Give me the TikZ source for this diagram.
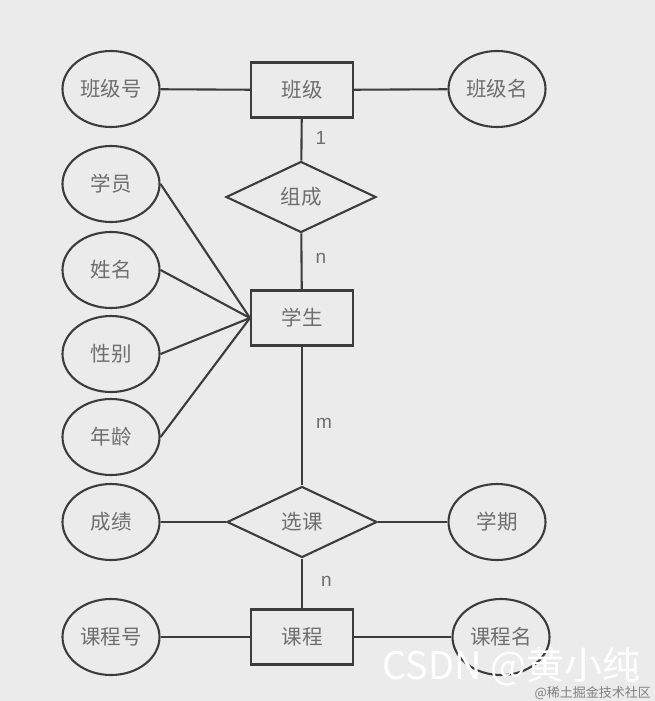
\documentclass[tikz,border=0pt]{standalone}
\usepackage{fontspec}
\setmainfont{Liberation Sans}
\newfontfamily\cjk{Noto Sans CJK SC}
\usetikzlibrary{shapes.geometric}
\definecolor{bgc}{HTML}{EBEBEB}
\definecolor{linec}{HTML}{3C3C3C}
\definecolor{txtc}{HTML}{6E6E6E}
\tikzset{
  x=1pt, y=-1pt,
  every node/.style={font=\cjk\fontsize{20.5}{22}\selectfont, text=txtc},
  attr/.style={ellipse, draw=linec, line width=2.1pt, minimum width=97pt, minimum height=76pt, inner sep=0pt},
  ent/.style={rectangle, draw=linec, line width=2.1pt, minimum width=102pt, minimum height=55pt, inner sep=0pt},
  rel/.style={diamond, draw=linec, line width=2.1pt, minimum width=150pt, minimum height=71pt, inner sep=0pt, aspect=2.1},
  conn/.style={draw=linec, line width=2.1pt},
  card/.style={font=\fontsize{19}{21}\selectfont, text=txtc, inner sep=0pt, anchor=west}
}
\begin{document}
\begin{tikzpicture}
\fill[bgc] (0,0) rectangle (655,701);
\useasboundingbox (0,0) rectangle (655,701);
% entities
\node[ent] (bj) at (302,90) {班级};
\node[ent] (xs) at (302,318) {学生};
\node[ent] (kc) at (302,637) {课程};
% relationships
\node[rel] (zc) at (301,197) {组成};
\node[rel] (xk) at (302,522) {选课};
% attributes
\node[attr] (bjh) at (111,89) {班级号};
\node[attr] (bjm) at (497,89) {班级名};
\node[attr] (xy) at (111,184) {学员};
\node[attr] (xm) at (111,270) {姓名};
\node[attr] (xb) at (111,354) {性别};
\node[attr] (nl) at (111,437) {年龄};
\node[attr] (cj) at (111,522) {成绩};
\node[attr] (xq) at (497,522) {学期};
\node[attr] (kch) at (111,637) {课程号};
\node[attr] (kcm) at (501,637) {课程名};
% connectors
\draw[conn] (bjh) -- (bj);
\draw[conn] (bj) -- (bjm);
\draw[conn] (bj) -- node[card, pos=0.45, xshift=13pt] {1} (zc);
\draw[conn] (zc) -- node[card, pos=0.45, xshift=13pt] {n} (xs);
\draw[conn] (xy.east) -- (xs.west);
\draw[conn] (xm.east) -- (xs.west);
\draw[conn] (xb.east) -- (xs.west);
\draw[conn] (nl.east) -- (xs.west);
\draw[conn] (xs) -- node[card, pos=0.55, xshift=13pt] {m} (xk);
\draw[conn] (cj) -- (xk);
\draw[conn] (xk) -- (xq);
\draw[conn] (xk) -- node[card, pos=0.45, xshift=18pt] {n} (kc);
\draw[conn] (kch) -- (kc);
\draw[conn] (kc) -- (kcm);
% watermark
\node[font=\cjk\fontsize{38}{40}\selectfont, text=white, anchor=base west, inner sep=0pt] (wm) at (382,679) {CSDN @黄小纯};
\node[font=\cjk\fontsize{13}{15}\selectfont, text=gray, anchor=base east, inner sep=0pt] (wm2) at (651,697) {@稀土掘金技术社区};
\end{tikzpicture}
\end{document}
